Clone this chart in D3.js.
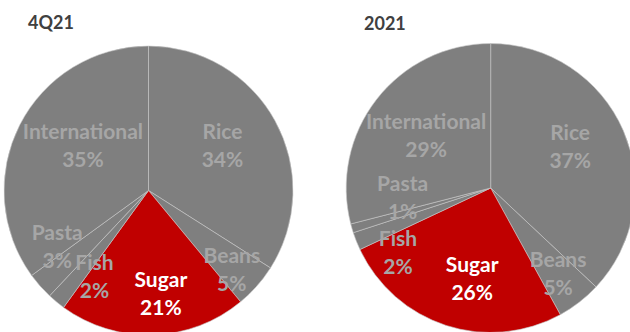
<!DOCTYPE html>
<html>
<head>
<meta charset="utf-8">
<script src="https://cdn.jsdelivr.net/npm/d3@7"></script>
<style>
  html, body { margin: 0; padding: 0; background: #fff; }
  svg { display: block; }
  text { font-family: Lato, "Open Sans", sans-serif; font-weight: bold; }
</style>
</head>
<body>
<svg id="chart" width="630" height="332"></svg>
<script>
// Product mix, share of sales (%)
const categories = ["Rice", "Beans", "Sugar", "Fish", "Pasta", "International"];
const titles = ["4Q21", "2021"];
const shares4Q21 = [34, 5, 21, 2, 3, 35];
const shares2021 = [37, 5, 26, 2, 1, 29];
const highlight = "Sugar";

const svg = d3.select("#chart");

const R = 144.5;
const panels = [
  { title: titles[0], values: shares4Q21, cx: 148.5, cy: 190.5, tx: 28, ty: 29,
    // label offsets from the arc centroid (px)
    nudge: { Rice: [-21, 8], Beans: [2, 8], Sugar: [9, -5], Fish: [15, 3], Pasta: [-10, -15], International: [31, 5] } },
  { title: titles[1], values: shares2021, cx: 490.7, cy: 188, tx: 364, ty: 30,
    nudge: { Rice: [-20, 2], Beans: [1, 0], Sugar: [15, -12], Fish: [8, 25], Pasta: [16, -20], International: [21, 14] } }
];

const color = d3.scaleOrdinal()
  .domain(categories)
  .range(categories.map(c => c === highlight ? "#c00000" : "#7f7f7f"));

const pie = d3.pie().sort(null).value(d => d.value);
const arc = d3.arc().innerRadius(0).outerRadius(R);
const labelArc = d3.arc().innerRadius(R * 0.75).outerRadius(R * 0.75);

panels.forEach(p => {
  const data = categories.map((c, i) => ({ name: c, value: p.values[i] }));
  const g = svg.append("g").attr("transform", `translate(${p.cx},${p.cy})`);

  g.selectAll("path.slice")
    .data(pie(data))
    .join("path")
    .attr("class", "slice")
    .attr("d", arc)
    .attr("fill", d => color(d.data.name))
    .attr("stroke", "#c8c8c8")
    .attr("stroke-width", 0.6);

  const labels = g.selectAll("text.lbl")
    .data(pie(data))
    .join("text")
    .attr("class", "lbl")
    .attr("text-anchor", "middle")
    .attr("font-size", 21)
    .attr("fill", d => d.data.name === highlight ? "#ffffff" : "#a6a6a6")
    .attr("transform", d => {
      const [x, y] = labelArc.centroid(d);
      const [nx, ny] = p.nudge[d.data.name];
      return `translate(${x + nx},${y + ny})`;
    });
  labels.append("tspan").attr("x", 0).attr("y", -7).text(d => d.data.name);
  labels.append("tspan").attr("x", 0).attr("y", 21).text(d => d.data.value + "%");

  svg.append("text")
    .attr("x", p.tx)
    .attr("y", p.ty)
    .attr("font-size", 18)
    .attr("fill", "#404040")
    .text(p.title);
});
</script>
</body>
</html>
